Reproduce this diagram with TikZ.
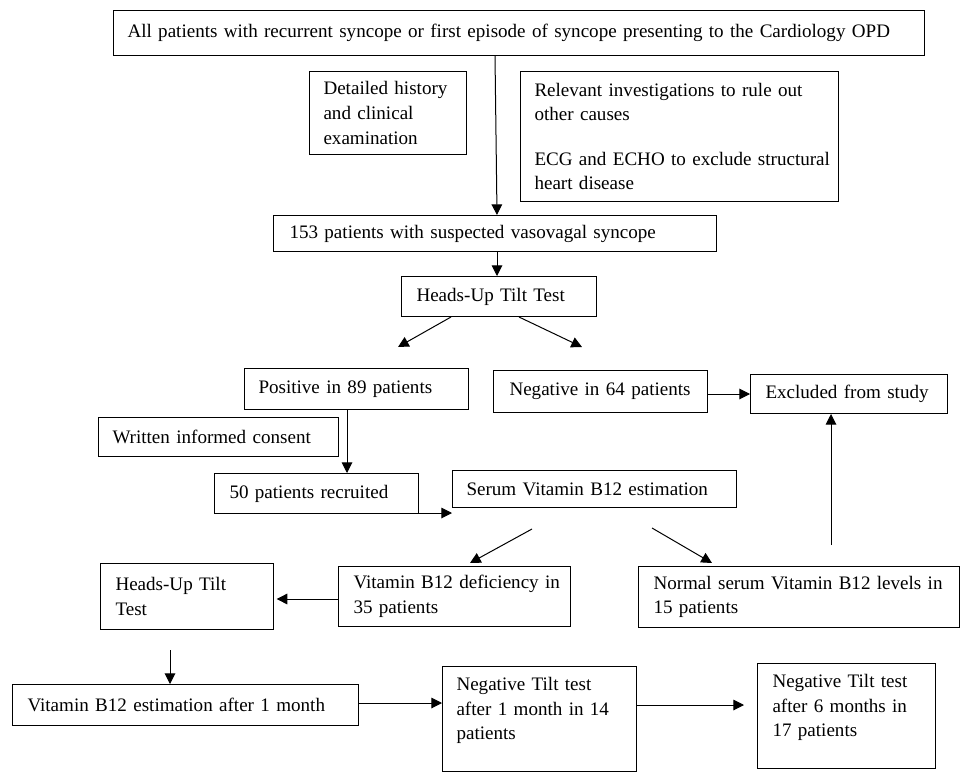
\documentclass[tikz,border=0pt]{standalone}
\usepackage{fontspec}
\setmainfont{Liberation Serif}
\usetikzlibrary{arrows.meta}
\newcommand\tline[1]{\mbox{#1}}
\begin{document}
\begin{tikzpicture}[x=0.75pt,y=-0.75pt,
  box/.style={draw,line width=0.75pt,anchor=north west,align=left,inner ysep=0pt,
    font=\fontsize{14.3pt}{18.4pt}\selectfont},
  arr/.style={line width=0.75pt,-{Triangle[length=8pt,width=8pt]}}]
\useasboundingbox (0,0) rectangle (973,781);
\node[box,inner xsep=10.5pt,text width=587.25pt,minimum height=33.75pt] (top) at (113,10)
  {\tline{All patients with recurrent syncope or first episode of syncope presenting to the Cardiology OPD}};
\node[box,inner xsep=10.5pt,text width=96.75pt,minimum height=62.25pt] (hist) at (309,71)
  {\tline{Detailed history}\\\tline{and clinical}\\\tline{examination}};
\node[box,inner xsep=10.5pt,text width=217.5pt,minimum height=97.5pt] (inv) at (520,71)
  {\tline{Relevant investigations to rule out}\\\tline{other causes}\\[15pt]\tline{ECG and ECHO to exclude structural}\\\tline{heart disease}};
\node[box,inner xsep=12pt,text width=308.25pt,minimum height=27pt] (n153) at (273,215)
  {\tline{153 patients with suspected vasovagal syncope}};
\node[box,inner xsep=11.25pt,text width=123.75pt,minimum height=30pt] (hutt) at (401,276)
  {\tline{Heads-Up Tilt Test}};
\node[box,inner xsep=10.5pt,text width=147pt,minimum height=30.75pt] (pos) at (244,368)
  {\tline{Positive in 89 patients}};
\node[box,inner xsep=12pt,text width=136.5pt,minimum height=31.5pt] (neg) at (493,370)
  {\tline{Negative in 64 patients}};
\node[box,inner xsep=11.25pt,text width=125.25pt,minimum height=29.25pt] (excl) at (750,374)
  {\tline{Excluded from study}};
\node[box,inner xsep=10.5pt,text width=159pt,minimum height=29.25pt] (cons) at (98,417)
  {\tline{Written informed consent}};
\node[box,inner xsep=11.25pt,text width=130.5pt,minimum height=30pt] (rec) at (214,473)
  {\tline{50 patients recruited}};
\node[box,inner xsep=10.5pt,text width=192pt,minimum height=27.75pt] (serum) at (452,470)
  {\tline{Serum Vitamin B12 estimation}};
\node[box,inner xsep=11.25pt,text width=151.5pt,minimum height=45pt] (def) at (338,566)
  {\tline{Vitamin B12 deficiency in}\\\tline{35 patients}};
\node[box,inner xsep=11.25pt,text width=218.25pt,minimum height=45.75pt] (norm) at (638,566)
  {\tline{Normal serum Vitamin B12 levels in}\\\tline{15 patients}};
\node[box,inner xsep=11.25pt,text width=107.25pt,minimum height=49.5pt] (hutt2) at (100,563)
  {\tline{Heads-Up Tilt}\\\tline{Test}};
\node[box,inner xsep=11.25pt,text width=237pt,minimum height=30.75pt] (est) at (12,684)
  {\tline{Vitamin B12 estimation after 1 month}};
\node[box,inner xsep=10.5pt,text width=124.5pt,minimum height=78.75pt] (neg1) at (442,666)
  {\tline{Negative Tilt test}\\\tline{after 1 month in 14}\\\tline{patients}\\[-3pt]\mbox{}};
\node[box,inner xsep=11.25pt,text width=111pt,minimum height=78.75pt] (neg6) at (757,663)
  {\tline{Negative Tilt test}\\\tline{after 6 months in}\\\tline{17 patients}\\[-3pt]\mbox{}};
% free ends
\coordinate (hl) at (398,347);
\coordinate (hr) at (582,347);
\coordinate (sl) at (470,563);
\coordinate (sr) at (712,563);
\coordinate (nstart) at (831,545);
\coordinate (hstart) at (170,650);
% connectors
\draw[arr] (top.south -| 495,0) -- (n153.north -| 497,0);
\draw[arr] (n153.south -| 497,0) -- (hutt.north -| 497,0);
\draw[arr] (hutt.south -| 451,0) -- (hl);
\draw[arr] (hutt.south -| 519,0) -- (hr);
\draw[arr] (pos.south -| 347,0) -- (rec.north -| 347,0);
\draw[arr] (neg.east |- 0,394) -- (excl.west |- 0,394);
\draw[arr] (rec.east |- 0,513) -- (serum.west |- 0,513);
\draw[arr] (532,529) -- (sl);
\draw[arr] (652,528) -- (sr);
\draw[arr] (nstart) -- (excl.south -| nstart);
\draw[arr,shorten >=2pt] (def.west |- 0,599) -- (hutt2.east |- 0,599);
\draw[arr] (hstart) -- (est.north -| hstart);
\draw[arr] (est.east |- 0,703) -- (neg1.west |- 0,703);
\draw[arr,shorten >=9.75pt] (neg1.east |- 0,705) -- (neg6.west |- 0,705);
\end{tikzpicture}
\end{document}
